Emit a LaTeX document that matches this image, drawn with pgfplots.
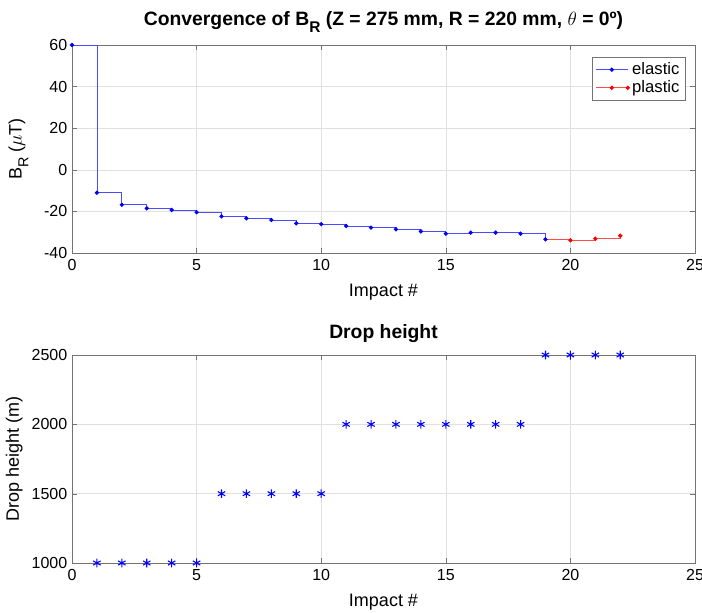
\documentclass[border=0pt]{standalone}
\usepackage{pgfplots}
\pgfplotsset{compat=1.18}
\usepackage{fontspec}
\setmainfont{Liberation Sans}
\setsansfont{Liberation Sans}

\definecolor{axgray}{gray}{0.45}
\definecolor{gridgray}{gray}{0.88}
\definecolor{lblue}{rgb}{0.3,0.3,1}
\definecolor{lred}{rgb}{1,0.3,0.3}

\newcommand{\sub}[1]{\raisebox{-0.7ex}{\fontsize{0.8em}{1em}\selectfont #1}}

\pgfplotsset{
  mstyle/.style={
    width=467.25pt, height=156pt, scale only axis,
    xmin=0, xmax=25, xtick={0,5,...,25},
    axis line style={axgray}, tick style={axgray, major tick length=4pt},
    tick align=inside,
    grid=major, major grid style={gridgray, line width=0.4pt},
    every tick label/.append style={font=\fontsize{12}{14}\selectfont},
    xticklabel style={yshift=-1.5pt},
    label style={font=\fontsize{13.5}{15}\selectfont},
    title style={font=\fontsize{14.5}{16}\selectfont\bfseries, yshift=0pt},
    /pgf/number format/assume math mode=true,
    /pgf/number format/1000 sep={},
    xlabel={Impact \#},
    xlabel style={yshift=-3pt},
    clip=false,
  },
}

\begin{document}
\begin{tikzpicture}
\useasboundingbox (-54pt,33.75pt) rectangle (472.5pt,-425.25pt);

\begin{axis}[mstyle,
    at={(0pt,0pt)}, anchor=north west,
    ymin=-40, ymax=60, ytick={-40,-20,...,60},
    title={Convergence of B\sub{R} (Z = 275 mm, R = 220 mm, $\theta$ = 0º)},
    ylabel={B\sub{R} ($\mu$T)},
    ylabel style={yshift=5pt},
    legend style={at={(0.984,0.942)}, anchor=north east, draw=axgray,
      font=\fontsize{12.5}{14}\selectfont, inner sep=2pt, row sep=-1pt,
      cells={anchor=west}},
    legend image code/.code={
      \draw[mark repeat=2, mark phase=2, mark size=1.3pt]
        plot coordinates {(0pt,0pt) (12pt,0pt) (24pt,0pt)};},
  ]
  \addplot[lblue, line width=0.6pt, const plot mark left, mark=*, mark size=1.3pt,
    mark options={blue}] coordinates {
    (0,60) (1,-11) (2,-16.8) (3,-18.5) (4,-19.3) (5,-20.4) (6,-22.4) (7,-23.3)
    (8,-24.1) (9,-25.7) (10,-26.1) (11,-27.0) (12,-27.8) (13,-28.6) (14,-29.6)
    (15,-30.7) (16,-30.2) (17,-30.2) (18,-30.7) (19,-33.4)};
  \addlegendentry{elastic}
  \addplot[lred, line width=0.6pt, const plot mark left, mark=*, mark size=1.3pt,
    mark options={red}, mark indices={2,3,4}] coordinates {
    (19,-33.4) (20,-33.9) (21,-33.1) (22,-31.7)};
  \addlegendentry{plastic}
\end{axis}

\begin{axis}[mstyle,
    at={(0pt,-232.5pt)}, anchor=north west,
    ymin=1000, ymax=2500, ytick={1000,1500,...,2500},
    title={Drop height},
    ylabel={Drop height (m)},
    ylabel style={yshift=0pt},
  ]
  \addplot[only marks, blue, mark=asterisk, mark size=3.2pt, line width=0.8pt] coordinates {
    (1,1000) (2,1000) (3,1000) (4,1000) (5,1000)
    (6,1500) (7,1500) (8,1500) (9,1500) (10,1500)
    (11,2000) (12,2000) (13,2000) (14,2000) (15,2000) (16,2000) (17,2000) (18,2000)
    (19,2500) (20,2500) (21,2500) (22,2500)};
\end{axis}
\end{tikzpicture}
\end{document}
